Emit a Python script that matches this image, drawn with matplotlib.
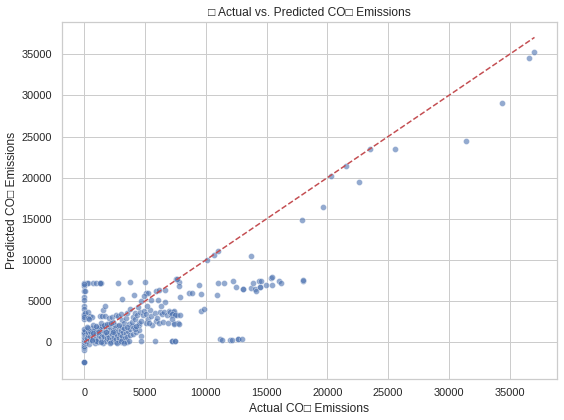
import matplotlib
import matplotlib.pyplot as plt
import seaborn as sns

matplotlib.use('Agg')

# (actual, predicted), grouped by region
top_row = [(0, 7200), (190, 7200), (330, 7250), (740, 7250), (950, 7250), (1280, 7200), (1390, 7200),
           (1300, 7250), (2800, 7200), (3770, 7300), (5000, 7300)]
left_column = [(0, -2440), (0, -2440), (0, -2400), (20, 6900), (10, 7080), (0, 6250), (30, 6200), (0, 5480),
               (10, 5200), (0, 4360), (20, 4080), (0, 3480), (10, 3280), (0, 2880), (30, 3600), (0, 3100),
               (0, -920), (10, -750), (0, -600), (20, -400), (0, -250), (30, -100), (0, 0), (50, 150),
               (0, 300), (30, 450), (0, 600), (60, 800), (0, 950), (20, 1100), (0, 1250), (40, 1400), (0, 1600),
               (330, 3680), (450, 3200), (600, 3120), (300, 3000), (420, 2880)]
low_mass = [(150, 100), (250, 500), (300, 900), (350, 1300), (400, -200), (450, 250), (500, 750), (550, 1150),
            (600, 1700), (650, 100), (700, 500), (750, 950), (800, 1450), (850, -100), (900, 300), (950, 700),
            (1000, 1150), (1050, 1800), (1100, 0), (1150, 450), (1200, 900), (1250, 1350), (1300, 1900), (1350, 150),
            (1400, 600), (1450, 1050), (1500, 1500), (1550, -50), (1600, 350), (1650, 800), (1700, 1300), (1750, 2000),
            (1800, 100), (1850, 550), (1900, 1000), (1950, 1600), (2000, 250), (2050, 700), (2100, 1250), (2150, 1900),
            (2200, 0), (2250, 450), (2300, 950), (2350, 1500), (2400, 150), (2450, 600), (2500, 1100), (2550, 1750),
            (2600, 50), (2650, 400), (2700, 850), (2750, 1400), (2800, 2000), (2850, 100), (2900, 500), (2950, 1000),
            (3000, 1500), (3050, 0), (3100, 350), (3150, 800), (3200, 1300), (3300, 100), (3350, 550), (3400, 1100),
            (3500, 50), (3550, 700), (3600, 1400), (3700, 200), (3750, 850), (3800, 1600), (4000, 1000), (4100, 1800),
            (4300, 1300), (4500, 1500), (4650, 800), (4700, 120), (4500, 2100), (5820, 120), (7200, 120), (7450, 120),
            (1000, 100), (600, 300), (1400, 0), (2100, -100), (2700, -50), (3000, 100), (3300, -50), (1800, 1200),
            (800, 1600), (1200, 1700), (1500, 2000), (500, 1400), (300, 1700),
            (200, 1900), (700, 2100), (1000, 2000), (1400, 2300), (1650, 2050), (2050, 2250), (2500, 2050),
            (3100, 1900), (3300, 1750), (3900, 2000), (4200, 1650), (2400, 1300), (1100, 1200), (700, 1150)]
mid_band = [(1560, 3880), (1690, 4360), (1300, 3150), (1500, 3200), (1700, 3250), (2000, 3000), (2300, 3100),
            (2400, 2500), (2600, 3300), (2800, 3200), (3000, 3400), (3100, 2700), (3300, 2400), (3400, 3000),
            (3550, 3500), (3700, 2200), (3900, 2500), (4000, 3100), (4150, 2800), (4200, 3500), (4350, 3300),
            (4500, 2400), (4600, 3700), (4800, 3300), (4900, 3800), (5050, 2300), (5100, 3400), (5250, 2800),
            (5400, 3900), (5500, 3200), (5600, 2100), (5800, 3600), (5900, 2600), (6000, 3000), (6150, 2300),
            (6200, 3700), (6400, 3400), (6500, 2500), (6600, 3700), (6800, 3300), (6900, 2400), (7000, 3750),
            (7150, 3350), (7300, 3650), (7400, 2300), (7500, 3400), (7700, 2300), (7650, 3350), (1900, 2200),
            (2200, 2300), (2900, 2100), (3500, 1900), (4300, 2000), (4700, 2600), (5300, 2400)]
upper_mid = [(3100, 5280), (4100, 5760), (5100, 6000), (5250, 6000), (4700, 5000), (5460, 5080), (6060, 5160),
             (6630, 4840), (6300, 4440), (5900, 6240), (6190, 6360), (6630, 6360), (7590, 7680), (7830, 7360),
             (7780, 6800), (7860, 5520), (8650, 6000), (4900, 5600), (4400, 4300), (5200, 4400), (3800, 4100)]
right_band = [(7640, 7640), (9410, 6960), (8840, 6000), (9580, 5880), (10890, 5760), (10970, 7200), (11540, 7200),
              (12280, 7400), (12530, 6720), (13100, 6480), (13100, 6500), (13750, 6600), (13920, 7200), (14030, 6480),
              (14170, 6240), (14410, 7440), (14570, 7440), (14490, 6720), (14490, 6750), (14980, 6960), (15470, 6960),
              (15390, 7800), (15470, 7920), (16050, 7440), (16210, 7200), (18010, 7440), (13750, 10520),
              (11210, 360), (11300, 240), (12030, 240), (12200, 240), (12630, 360), (12650, 360), (13020, 360),
              (9580, 3840), (9820, 4080), (7090, 3680), (7360, 3760), (7230, 3480), (7500, 3360), (7860, 3360),
              (7230, 2880), (7420, 2280), (7780, 2280), (7230, 120), (7500, 120)]
diagonal = [(10070, 10040), (10720, 10640), (10970, 11040), (17900, 14850), (17980, 7590), (19620, 16430),
            (20270, 20180), (21500, 21390), (22650, 19450), (23550, 23450), (25600, 23450), (31420, 24420),
            (34370, 29020), (36580, 34590), (37050, 35300)]

points = top_row + left_column + low_mass + mid_band + upper_mid + right_band + diagonal
y_test = [p[0] for p in points]
y_pred = [p[1] for p in points]

sns.set_theme(style='whitegrid', color_codes=True)
plt.rcParams['font.family'] = ['Liberation Sans', 'DejaVu Sans']

fig, ax = plt.subplots(figsize=(564 / 72, 420 / 72), dpi=72)
sns.scatterplot(x=y_test, y=y_pred, alpha=0.6, ax=ax)
ax.plot([min(y_test), max(y_test)], [min(y_test), max(y_test)], 'r--')
ax.set_ylim(-4460, 38960)
ax.set_xlabel('Actual CO\u25a1 Emissions')
ax.set_ylabel('Predicted CO\u25a1 Emissions')
ax.set_title('\u25a1 Actual vs. Predicted CO\u25a1 Emissions')
fig.subplots_adjust(left=61.7 / 564, right=557 / 564, top=1 - 21.7 / 420, bottom=1 - 379 / 420)
fig.savefig('out.png')
plt.close(fig)
